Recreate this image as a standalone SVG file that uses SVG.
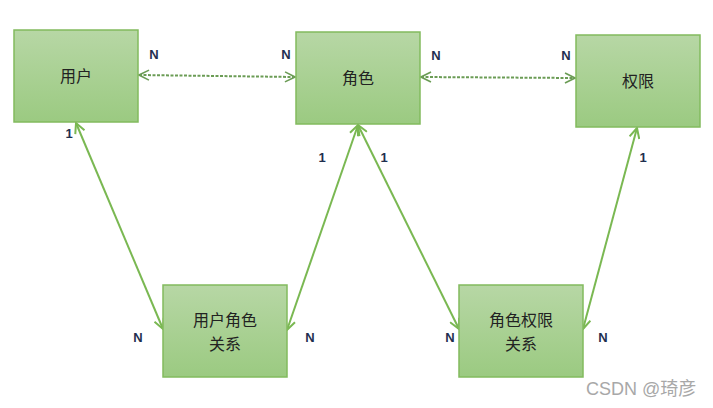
<svg xmlns="http://www.w3.org/2000/svg" width="713" height="408" viewBox="0 0 713 408">
<defs>
<linearGradient id="g" x1="0" y1="0" x2="0" y2="1">
<stop offset="0" stop-color="#b7d7a5"/>
<stop offset="1" stop-color="#9bca81"/>
</linearGradient>
<marker id="a" viewBox="0 0 12 12" refX="11" refY="6" markerWidth="12" markerHeight="12" markerUnits="userSpaceOnUse" orient="auto-start-reverse">
<path d="M1,1 L11,6 L1,11" fill="none" stroke="#7ab852" stroke-width="2"/>
</marker>
<marker id="ad" viewBox="0 0 12 12" refX="11" refY="6" markerWidth="12" markerHeight="12" markerUnits="userSpaceOnUse" orient="auto-start-reverse">
<path d="M1,1 L11,6 L1,11" fill="none" stroke="#6b9c55" stroke-width="1.6"/>
</marker>
</defs>
<style>
.box{fill:url(#g);stroke:#82bb5e;stroke-width:1.5}
.t{font-family:"Noto Sans CJK SC","Liberation Sans",sans-serif;font-size:16px;fill:#222;text-anchor:middle}
.lbl{font-family:"Liberation Sans",Arial,sans-serif;font-size:13px;font-weight:bold;fill:#1f2f4f;text-anchor:middle}
.s{stroke:#7ab852;stroke-width:2;fill:none;marker-start:url(#a);marker-end:url(#a)}
.d{stroke:#6b9c55;stroke-width:2;stroke-dasharray:3,1.5;fill:none;marker-start:url(#ad);marker-end:url(#ad)}
.wm{font-family:"Liberation Sans","Noto Sans CJK SC",sans-serif;font-size:18px;fill:#a8a8a8}
</style>
<rect width="713" height="408" fill="#fff"/>
<g id="connectors">
<line class="d" x1="139" y1="75" x2="295" y2="77"/>
<line class="d" x1="421" y1="77" x2="575" y2="78"/>
<line class="s" x1="76" y1="123" x2="163" y2="329"/>
<line class="s" x1="358" y1="125" x2="287" y2="330"/>
<line class="s" x1="358" y1="125" x2="459" y2="329"/>
<line class="s" x1="637" y1="128" x2="583" y2="329"/>
</g>
<g id="user"><rect class="box" x="14" y="30" width="124" height="92"/><text class="t" x="76" y="82">用户</text></g>
<g id="role"><rect class="box" x="296" y="32" width="124" height="92"/><text class="t" x="358" y="84">角色</text></g>
<g id="perm"><rect class="box" x="576" y="35" width="124" height="92"/><text class="t" x="638" y="87">权限</text></g>
<g id="userrole"><rect class="box" x="163" y="285" width="124" height="92"/><text class="t" x="225" y="326">用户角色</text><text class="t" x="225" y="350">关系</text></g>
<g id="roleperm"><rect class="box" x="459" y="285" width="124" height="92"/><text class="t" x="521" y="326">角色权限</text><text class="t" x="521" y="350">关系</text></g>
<g id="labels">
<text class="lbl" x="154" y="59">N</text>
<text class="lbl" x="286" y="59">N</text>
<text class="lbl" x="69" y="138">1</text>
<text class="lbl" x="322" y="162">1</text>
<text class="lbl" x="384" y="162">1</text>
<text class="lbl" x="436" y="60">N</text>
<text class="lbl" x="566" y="60">N</text>
<text class="lbl" x="643" y="162">1</text>
<text class="lbl" x="138" y="342">N</text>
<text class="lbl" x="310" y="342">N</text>
<text class="lbl" x="450" y="342">N</text>
<text class="lbl" x="603" y="342">N</text>
</g>
<text class="wm" x="586" y="395">CSDN @琦彦</text>
</svg>
